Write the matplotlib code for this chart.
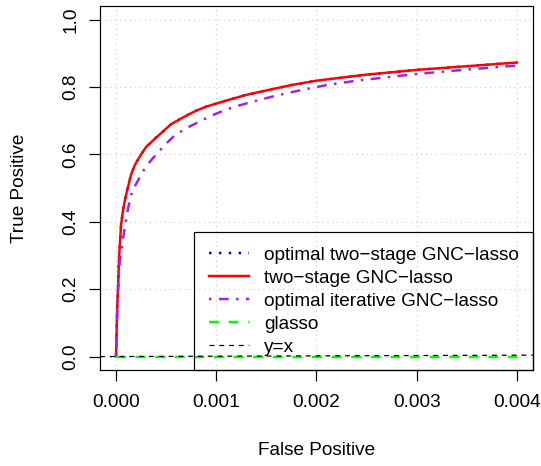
import matplotlib
matplotlib.use('Agg')
import matplotlib.pyplot as plt

# ROC curves (false positive rate vs true positive rate)
fpr_two = [0, 0.000005, 0.00001, 0.00002, 0.00003, 0.00005, 0.00007, 0.0001, 0.00015,
           0.00019, 0.00025, 0.0003, 0.0004, 0.00055, 0.0007, 0.0008, 0.0009, 0.0011,
           0.0013, 0.0015, 0.00175, 0.002, 0.0025, 0.003, 0.0035, 0.004]
tpr_two = [0, 0.06, 0.13, 0.20, 0.29, 0.39, 0.435, 0.48, 0.54,
           0.57, 0.60, 0.622, 0.65, 0.69, 0.715, 0.73, 0.742, 0.76,
           0.777, 0.79, 0.806, 0.819, 0.837, 0.851, 0.862, 0.873]

# optimal two-stage curve coincides with the two-stage one
fpr_opt_two = fpr_two
tpr_opt_two = tpr_two

fpr_iter = [0, 0.00001, 0.00002, 0.000037, 0.00007, 0.00012, 0.00016, 0.00025, 0.0003,
            0.0004, 0.0005, 0.00058, 0.0007, 0.00083, 0.00095, 0.00107, 0.0012, 0.00133,
            0.0016, 0.00183, 0.0021, 0.0024, 0.003, 0.0035, 0.004]
tpr_iter = [0, 0.10, 0.197, 0.28, 0.35, 0.44, 0.49, 0.54, 0.565,
            0.60, 0.632, 0.655, 0.678, 0.697, 0.715, 0.73, 0.743, 0.754,
            0.775, 0.79, 0.806, 0.819, 0.839, 0.852, 0.864]

fpr_glasso = [0, 0.004]
tpr_glasso = [0, 0]

labels = ['optimal two\u2212stage GNC\u2212lasso', 'two\u2212stage GNC\u2212lasso',
          'optimal iterative GNC\u2212lasso', 'glasso', 'y=x']
xticks = [0, 0.001, 0.002, 0.003, 0.004]
yticks = [0, 0.2, 0.4, 0.6, 0.8, 1.0]

plt.rcParams['font.family'] = ['Liberation Sans', 'DejaVu Sans']
plt.rcParams['font.size'] = 13.7
plt.rcParams['lines.scale_dashes'] = False

fig = plt.figure(figsize=(5.41, 4.66), dpi=100)
ax = fig.add_axes([0.1848, 0.206, 0.8004, 0.7806])

px = 0.72  # one pixel in points
lw = 2.46 * px

ax.plot(fpr_opt_two, tpr_opt_two, color='blue', lw=lw, dashes=(2.46 * px, 7.4 * px),
        label=labels[0])
ax.plot(fpr_two, tpr_two, color='red', lw=lw, label=labels[1])
ax.plot(fpr_iter, tpr_iter, color='#A020F0', lw=lw,
        dashes=(2.46 * px, 7.4 * px, 9.8 * px, 7.4 * px), label=labels[2])
ax.plot(fpr_glasso, tpr_glasso, color='#00FF00', lw=lw, dashes=(9.8 * px, 9.8 * px),
        label=labels[3])
ax.axline((0, 0), slope=1, color='black', lw=1.23 * px, dashes=(4.9 * px, 4.9 * px),
          label=labels[4])

ax.set_xlim(-0.00016, 0.00416)
ax.set_ylim(-0.04, 1.04)
ax.set_xticks(xticks)
ax.set_xticklabels(['%.3f' % t for t in xticks])
ax.set_yticks(yticks)
ax.set_yticklabels(['%.1f' % t for t in yticks], rotation=90, va='center')

ax.grid(True, color='#D3D3D3', lw=1.23 * px, dashes=(1.23 * px, 3.7 * px))
ax.set_axisbelow(True)

for s in ax.spines.values():
    s.set_linewidth(1.2 * px)
    s.set_color('black')
ax.tick_params(axis='both', length=11 * px, width=1.2 * px, color='black')
ax.tick_params(axis='x', pad=9)
ax.tick_params(axis='y', pad=7)

ax.set_xlabel('False Positive')
ax.set_ylabel('True Positive')
ax.xaxis.set_label_coords(0.5, -0.22)
ax.yaxis.set_label_coords(-0.185, 0.5)
ax.xaxis.label.set_va('center')
ax.yaxis.label.set_va('center')

leg = ax.legend(loc='lower right', borderaxespad=0, fancybox=False, framealpha=1,
                handlelength=2.1, handletextpad=0.8, borderpad=0.75, labelspacing=0.3,
                fontsize=13.7)
leg.get_frame().set_facecolor('none')
leg.get_frame().set_edgecolor('black')
leg.get_frame().set_linewidth(1.2 * px)

plt.savefig('out.png', dpi=100)
